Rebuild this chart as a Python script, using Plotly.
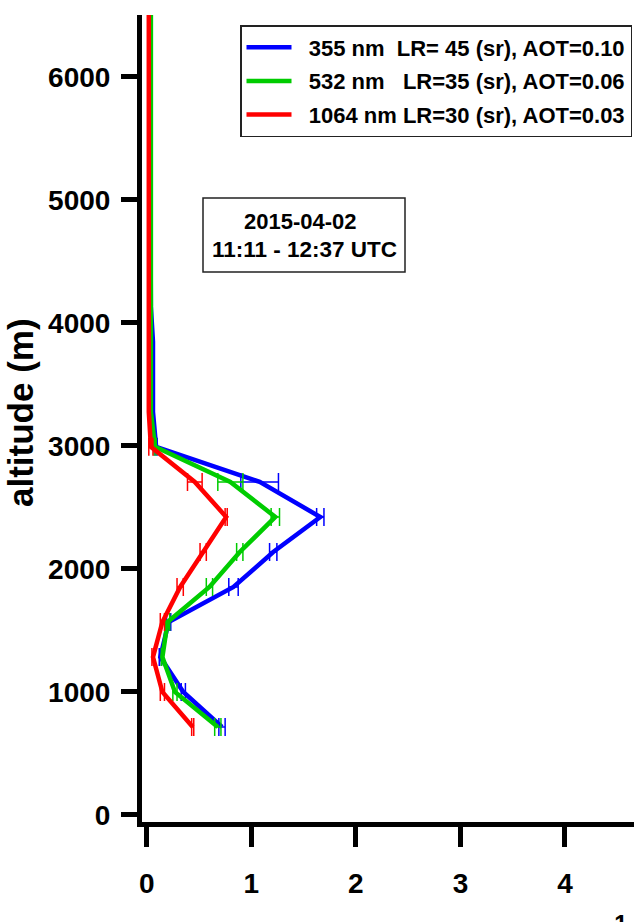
import plotly.graph_objects as go

# ---------------- data ----------------
altitude_m = [715, 1000, 1284, 1569, 1854, 2138, 2423, 2708, 2993, 3277, 3562,
              3847, 4131, 4416, 4701, 4985, 5270, 5555, 5839, 6124, 6409, 6693]

ext_355 = [0.72, 0.35, 0.13, 0.21, 0.83, 1.21, 1.66, 1.08, 0.09, 0.06, 0.06,
           0.06, 0.04, 0.035, 0.035, 0.035, 0.035, 0.035, 0.035, 0.035, 0.035, 0.035]
err_355 = [0.03, 0.02, 0.01, 0.02, 0.045, 0.035, 0.035, 0.18, 0.01, 0, 0,
           0, 0, 0, 0, 0, 0, 0, 0, 0, 0, 0]

ext_532 = [0.68, 0.27, 0.15, 0.20, 0.60, 0.89, 1.23, 0.80, 0.08, 0.04, 0.04,
           0.04, 0.04, 0.04, 0.04, 0.04, 0.04, 0.04, 0.04, 0.04, 0.04, 0.04]
err_532 = [0.03, 0.02, 0.01, 0.02, 0.03, 0.03, 0.04, 0.12, 0.01, 0, 0,
           0, 0, 0, 0, 0, 0, 0, 0, 0, 0, 0]

ext_1064 = [0.44, 0.15, 0.06, 0.15, 0.32, 0.54, 0.76, 0.46, 0.04, 0.02, 0.02,
            0.02, 0.02, 0.02, 0.02, 0.02, 0.02, 0.02, 0.02, 0.02, 0.02, 0.02]
err_1064 = [0.01, 0.02, 0.01, 0.02, 0.03, 0.03, 0.01, 0.07, 0.02, 0, 0,
            0, 0, 0, 0, 0, 0, 0, 0, 0, 0, 0]

series_names = ["355 nm  LR= 45 (sr), AOT=0.10",
                "532 nm   LR=35 (sr), AOT=0.06",
                "1064 nm LR=30 (sr), AOT=0.03"]
series_colors = ["#0000FF", "#00CC00", "#FF0000"]

x_ticks = [0, 1, 2, 3, 4]
y_ticks = [0, 1000, 2000, 3000, 4000, 5000, 6000]

date_text = "2015-04-02"
time_text = "11:11 - 12:37 UTC"
x_title = "Extinction Coefficient (km<sup>-1</sup>)"
y_title = "altitude (m)"

# ---------------- layout geometry ----------------
W, H = 634, 922
L, R, T, B = 142, 0, 15, 100
PW, PH = W - L - R, H - T - B


def pxx(px):
    return (px - L) / PW


def pxy(py):
    return (H - B - py) / PH


FONT = "Liberation Sans, Arial, Helvetica, sans-serif"

fig = go.Figure()
for i, (vals, errs, name, col) in enumerate(zip([ext_355, ext_532, ext_1064],
                                                [err_355, err_532, err_1064],
                                                series_names, series_colors)):
    fig.add_trace(go.Scatter(
        x=vals, y=altitude_m, mode="lines", name="\u00a0\u00a0" + name,
        legendgroup=f"g{i}",
        line=dict(color=col, width=4.5),
        error_x=dict(type="data", array=errs, visible=True, color=col,
                     thickness=1.5, width=9),
    ))

fig.update_layout(
    width=W, height=H,
    margin=dict(l=L, r=R, t=T, b=B, pad=0, autoexpand=False),
    paper_bgcolor="white", plot_bgcolor="white",
    showlegend=True,
    legend=dict(
        x=pxx(240), y=pxy(25), xanchor="left", yanchor="top",
        bgcolor="white", bordercolor="#222222", borderwidth=1.5,
        font=dict(family=FONT, size=22, color="black", weight="bold"),
        itemwidth=45, tracegroupgap=2,
    ),
    xaxis=dict(
        range=[-0.045, 4.66], tickvals=x_ticks, ticktext=[str(v) for v in x_ticks],
        showgrid=False, zeroline=False, showline=True, linecolor="black", linewidth=5,
        ticks="outside", ticklen=20, tickwidth=5, tickcolor="black",
        tickfont=dict(family=FONT, size=28, color="black", weight="bold"),
        ticklabelstandoff=12,
    ),
    yaxis=dict(
        range=[-57, 6504], tickvals=y_ticks, ticktext=[str(v) for v in y_ticks],
        showgrid=False, zeroline=False, showline=True, linecolor="black", linewidth=5,
        ticks="outside", ticklen=16, tickwidth=5, tickcolor="black",
        tickfont=dict(family=FONT, size=28, color="black", weight="bold"),
        ticklabelstandoff=5,
    ),
)

# y-axis title
fig.add_annotation(
    text=y_title, xref="paper", yref="paper", x=pxx(20), y=pxy(413),
    xanchor="center", yanchor="middle", textangle=-90, showarrow=False,
    font=dict(family=FONT, size=35, color="black", weight="bold"),
)
# x-axis title (mostly cut off by the bottom edge)
fig.add_annotation(
    text=x_title, xref="paper", yref="paper", x=pxx(413), y=pxy(907.5),
    xanchor="center", yanchor="top", showarrow=False,
    font=dict(family=FONT, size=34, color="black", weight="bold"),
)

# date / time box
fig.add_shape(type="rect", xref="paper", yref="paper",
              x0=pxx(203), x1=pxx(405), y0=pxy(272), y1=pxy(198),
              line=dict(color="#222222", width=1.5), fillcolor="white", layer="above")
fig.add_annotation(
    text=date_text, xref="paper", yref="paper", x=pxx(300), y=pxy(221),
    xanchor="center", yanchor="middle", showarrow=False,
    font=dict(family=FONT, size=22, color="black", weight="bold"),
)
fig.add_annotation(
    text=time_text, xref="paper", yref="paper", x=pxx(304), y=pxy(250),
    xanchor="center", yanchor="middle", showarrow=False,
    font=dict(family=FONT, size=22.5, color="black", weight="bold"),
)

fig.write_html("out.html")
